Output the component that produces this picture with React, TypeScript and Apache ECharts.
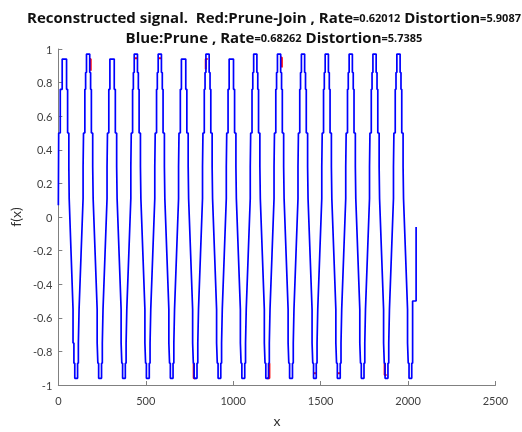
import React, { useEffect, useRef } from "react";
import * as echarts from "echarts";

// ---- data ----
// trough centres (x) of the reconstructed signal
const troughs = [102, 239, 375, 512, 648, 785, 921, 1058, 1194, 1331, 1467, 1604, 1740, 1877, 2013];
// peak kinds, peaks 1..15 ("flat" top at 0.94 or narrow "tip" at 0.97)
const peakKinds = ["flat", "tip", "flat", "tip", "tip", "flat", "tip", "flat", "tip", "tip", "tip", "tip", "tip", "tip", "tip"];
// start of the signal up to the first trough
const leadIn: number[][] = [
  [0, 0.07], [2, 0.07], [2, 0.5], [11, 0.5], [11, 0.76], [22, 0.76], [22, 0.94], [47, 0.94],
  [47, 0.76], [53, 0.76], [53, 0.5], [60, 0.5], [60, 0.3], [62, 0.3], [62, 0.11], [84, -0.55],
  [84, -0.75], [89, -0.75], [89, -0.87], [94, -0.87], [94, -0.96], [102, -0.96],
];
// one period from trough to trough (offsets from the trough), flat-topped peak
const periodFlat: number[][] = [
  [0, -0.96], [8, -0.96], [8, -0.87], [12.5, -0.87], [12.5, -0.75], [16.5, -0.75], [16.5, -0.55],
  [39.5, 0.11], [39.5, 0.3], [42, 0.3], [42, 0.5], [49.6, 0.5], [49.6, 0.76], [55.8, 0.76],
  [55.8, 0.94], [80.7, 0.94], [80.7, 0.76], [86.9, 0.76], [86.9, 0.5], [94.5, 0.5], [94.5, 0.3],
  [97, 0.3], [97, 0.11], [120, -0.55], [120, -0.75], [124, -0.75], [124, -0.87], [128.5, -0.87],
  [128.5, -0.96], [136.5, -0.96],
];
// one period from trough to trough, narrow peak reaching 0.97
const periodTip: number[][] = [
  [0, -0.96], [8, -0.96], [8, -0.87], [12.5, -0.87], [12.5, -0.75], [16.5, -0.75], [16.5, -0.55],
  [39.5, 0.11], [39.5, 0.3], [42, 0.3], [42, 0.5], [49.6, 0.5], [49.6, 0.76], [54, 0.76],
  [54, 0.86], [59, 0.86], [59, 0.97], [77.5, 0.97], [77.5, 0.86], [82.5, 0.86], [82.5, 0.76],
  [86.9, 0.76], [86.9, 0.5], [94.5, 0.5], [94.5, 0.3], [97, 0.3], [97, 0.11], [120, -0.55],
  [120, -0.75], [124, -0.75], [124, -0.87], [128.5, -0.87], [128.5, -0.96], [136.5, -0.96],
];
// end of the signal after the last trough
const tail: number[][] = [
  [2013, -0.96], [2021, -0.96], [2021, -0.87], [2026, -0.87], [2026, -0.5], [2046, -0.5], [2046, -0.06],
];
// where the red (Prune-Join) signal differs from the blue one
const redSegments: number[][][] = [
  [[177, 0.94], [185, 0.94], [185, 0.87]],
  [[437, 0.945], [450, 0.945]],
  [[573, 0.945], [587, 0.945]],
  [[843, 0.88], [843, 0.94], [854, 0.94]],
  [[1268, 0.95], [1278, 0.95], [1278, 0.89]],
  [[774, -0.87], [774, -0.96], [785, -0.96]],
  [[1194, -0.96], [1207, -0.96], [1207, -0.87]],
  [[1460, -0.93], [1473, -0.93]],
  [[1597, -0.93], [1611, -0.93]],
  [[1866, -0.87], [1866, -0.94], [1877, -0.94]],
];
const xTicks = { min: 0, max: 2500, interval: 500 };
const yTicks = { min: -1, max: 1, interval: 0.2 };

function buildBlue(): number[][] {
  const pts: number[][] = leadIn.map((p) => [p[0], p[1]]);
  for (let k = 0; k < troughs.length - 1; k++) {
    const prof = peakKinds[k + 1] === "tip" ? periodTip : periodFlat;
    for (const p of prof) pts.push([troughs[k] + p[0], p[1]]);
  }
  for (const p of tail) pts.push([p[0], p[1]]);
  return pts;
}

const FONT = "Lato, 'Open Sans', sans-serif";
const TITLE_FONT = "'Open Sans', sans-serif";

export default function App() {
  const ref = useRef<HTMLDivElement>(null);
  useEffect(() => {
    if (!ref.current) return;
    const chart = echarts.init(ref.current, undefined, { renderer: "svg" });
    const series: any[] = redSegments.map((seg, i) => ({
      type: "line",
      name: "Prune-Join " + i,
      data: seg,
      symbol: "none",
      lineStyle: { color: "#ff0000", width: 2 },
      z: 2,
      silent: true,
    }));
    series.push({
      type: "line",
      name: "Prune",
      data: buildBlue(),
      symbol: "none",
      lineStyle: { color: "#0000ff", width: 1.7 },
      z: 3,
      silent: true,
    });
    const axisCommon = {
      axisLine: { show: true, onZero: false, lineStyle: { color: "#808080", width: 1 } },
      axisTick: { show: true, inside: true, length: 4, lineStyle: { color: "#808080" } },
      splitLine: { show: false },
      nameTextStyle: { color: "#303030", fontSize: 14, fontFamily: FONT },
    };
    const titleRich = {
      b: { fontSize: 15, fontWeight: "bold", fontFamily: TITLE_FONT, fill: "#111" },
      s: { fontSize: 11, fontWeight: "bold", fontFamily: TITLE_FONT, fill: "#111" },
    };
    chart.setOption({
      animation: false,
      grid: { left: 53, right: 26.5, top: 49, bottom: 44, containLabel: false },
      xAxis: {
        type: "value",
        ...xTicks,
        name: "x",
        nameLocation: "middle",
        nameGap: 28,
        ...axisCommon,
        axisLabel: { color: "#404040", fontSize: 11, fontFamily: FONT, margin: 9.5, formatter: (v: number) => String(v) },
      },
      yAxis: {
        type: "value",
        ...yTicks,
        name: "f(x)",
        nameLocation: "middle",
        nameGap: 32,
        ...axisCommon,
        axisLabel: { color: "#404040", fontSize: 11, fontFamily: FONT, margin: 6 },
      },
      graphic: [
        {
          type: "text",
          x: 274,
          y: 17,
          style: {
            text: "{b|Reconstructed signal.  Red:Prune-Join , Rate}{s|=0.62012}{b| Distortion}{s|=5.9087}",
            align: "center",
            verticalAlign: "middle",
            rich: titleRich,
          },
        },
        {
          type: "text",
          x: 274,
          y: 37,
          style: {
            text: "{b|Blue:Prune , Rate}{s|=0.68262}{b| Distortion}{s|=5.7385}",
            align: "center",
            verticalAlign: "middle",
            rich: titleRich,
          },
        },
      ],
      series,
    });
    return () => chart.dispose();
  }, []);
  return <div ref={ref} style={{ position: "fixed", left: 0, top: 0, width: 522, height: 432 }} />;
}
